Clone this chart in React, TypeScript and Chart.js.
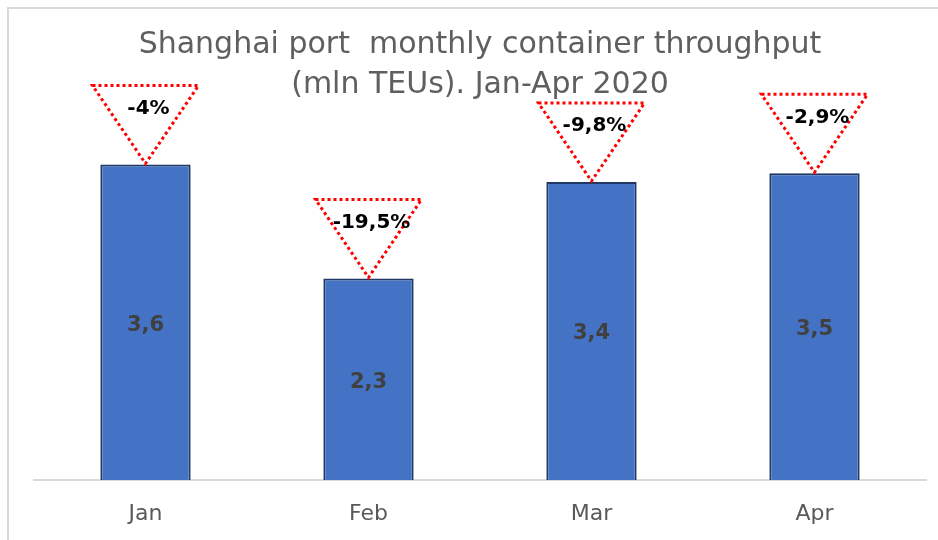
import React, { useEffect, useRef } from "react";
import { Chart, registerables } from "chart.js";

Chart.register(...registerables);

const months = ["Jan", "Feb", "Mar", "Apr"];
const throughput = [3.6, 2.3, 3.4, 3.5];
const yoyChange = ["-4%", "-19,5%", "-9,8%", "-2,9%"];
const titleLines = ["Shanghai port  monthly container throughput", "(mln TEUs). Jan-Apr 2020"];

const FONT = "'DejaVu Sans', sans-serif";
const fmt = (v: number) => v.toFixed(1).replace(".", ",");

const annotate = {
  id: "annotate",
  afterDatasetsDraw(chart: any) {
    const ctx = chart.ctx as CanvasRenderingContext2D;
    const meta = chart.getDatasetMeta(0);
    meta.data.forEach((bar: any, i: number) => {
      const { x, y, base } = bar.getProps(["x", "y", "base"], true);
      ctx.save();
      ctx.font = `bold 21px ${FONT}`;
      ctx.fillStyle = "#404040";
      ctx.textAlign = "center";
      ctx.textBaseline = "middle";
      ctx.fillText(fmt(throughput[i]), x, (y + base) / 2 + 3);

      const w = 106;
      const h = 78;
      const ay = y - 1;
      ctx.beginPath();
      ctx.moveTo(x - w / 2, ay - h);
      ctx.lineTo(x + w / 2, ay - h);
      ctx.lineTo(x, ay);
      ctx.closePath();
      ctx.strokeStyle = "#ff0000";
      ctx.lineWidth = 3;
      ctx.setLineDash([3, 3]);
      ctx.stroke();
      ctx.setLineDash([]);

      ctx.fillStyle = "#000000";
      ctx.font = `bold 20px ${FONT}`;
      ctx.fillText(yoyChange[i], x + 3, ay - h + 23);
      ctx.restore();
    });
  },
};

export default function App() {
  const ref = useRef<HTMLCanvasElement>(null);

  useEffect(() => {
    if (!ref.current) return;
    const chart = new Chart(ref.current, {
      type: "bar",
      data: {
        labels: months,
        datasets: [
          {
            data: throughput,
            backgroundColor: "#4472C4",
            borderColor: "#203864",
            borderWidth: 2,
            barPercentage: 0.405,
            categoryPercentage: 1,
          },
        ],
      },
      options: {
        responsive: false,
        animation: false,
        layout: { padding: { left: 25, right: 12, top: 0, bottom: 0 } },
        plugins: {
          legend: { display: false },
          tooltip: { enabled: false },
          title: {
            display: true,
            text: titleLines,
            color: "#5f5f5f",
            font: { family: FONT, size: 30, weight: "normal", lineHeight: 1.333 },
            padding: { top: 16, bottom: 0 },
          },
        },
        scales: {
          x: {
            grid: { display: false },
            border: { display: true, color: "#d9d9d9", width: 2 },
            ticks: { color: "#595959", font: { family: FONT, size: 22, lineHeight: 1 }, padding: 15 },
          },
          y: {
            display: false,
            min: 0,
            max: 4.28,
          },
        },
      },
      plugins: [annotate],
    });
    return () => chart.destroy();
  }, []);

  return (
    <div
      style={{
        position: "fixed",
        left: 7,
        top: 7,
        width: 931,
        height: 533,
        boxSizing: "border-box",
        borderTop: "2px solid #d9d9d9",
        borderLeft: "2px solid #d9d9d9",
        background: "#ffffff",
      }}
    >
      <canvas ref={ref} width={929} height={531} style={{ display: "block" }} />
    </div>
  );
}
